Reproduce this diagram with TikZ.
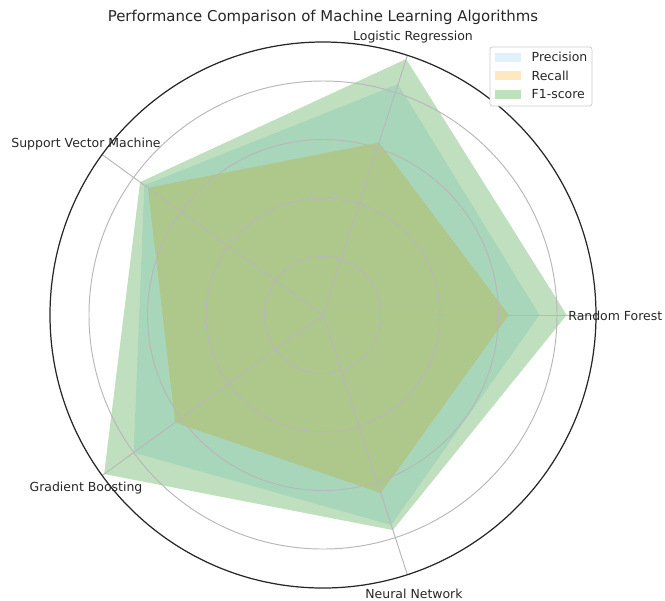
\documentclass[tikz,border=0pt]{standalone}
\usepackage{fontspec}
\setmainfont{DejaVu Sans}
\usepackage{xcolor}
\usetikzlibrary{positioning}
\definecolor{skyblue}{RGB}{135,206,235}
\definecolor{mplorange}{RGB}{255,165,0}
\definecolor{mplgreen}{RGB}{0,128,0}
\definecolor{gridgray}{RGB}{184,184,184}
\definecolor{txt}{RGB}{38,38,38}
\newcommand{\unitpx}{292.5}
\tikzset{
  gridline/.style={gridgray,line width=0.55pt},
  scorefill/.style={fill=#1,fill opacity=0.25},
  keypatch/.style={scorefill=#1,minimum width=0.52cm,minimum height=0.18cm}
}

\begin{document}
\begin{tikzpicture}[x=0.02cm,y=0.02cm,every node/.style={font=\fontsize{7.1}{8}\selectfont,text=txt,inner sep=0pt}]
\useasboundingbox (-323,-285) rectangle (342,315);
% scores: RF, LR, SVM, GB, NN
\fill[scorefill=skyblue] (0:{0.74*\unitpx}) -- (72:{0.83*\unitpx}) -- (144:{0.755*\unitpx}) -- (216:{0.80*\unitpx}) -- (288:{0.755*\unitpx}) -- cycle;
\fill[scorefill=mplorange] (0:{0.635*\unitpx}) -- (72:{0.62*\unitpx}) -- (144:{0.74*\unitpx}) -- (216:{0.625*\unitpx}) -- (288:{0.64*\unitpx}) -- cycle;
\fill[scorefill=mplgreen] (0:{0.833*\unitpx}) -- (72:{0.92*\unitpx}) -- (144:{0.773*\unitpx}) -- (216:{0.925*\unitpx}) -- (288:{0.773*\unitpx}) -- cycle;
% grid circles and spokes
\foreach \r in {0.2,0.4,0.6,0.8}
  \draw[gridline] (0,0) circle ({\r*\unitpx});
\foreach \a in {0,72,144,216,288}
  \draw[gridline] (0,0) -- (\a:273);
\draw[black!85,line width=0.7pt] (0,0) circle (273);
% axis labels
\node (rf) [anchor=west] at (245,-1) {Random Forest};
\node (lr) at (90,278) {Logistic Regression};
\node (svm) at (-237,171) {Support Vector Machine};
\node (gb) at (-237,-173) {Gradient Boosting};
\node (nn) at (91,-279) {Neural Network};
\node (title) [font=\fontsize{8.5}{10}\selectfont] at (0,298) {Performance Comparison of Machine Learning Algorithms};
% legend
\draw[gridgray!70,fill=white,rounded corners=0.05cm,line width=0.4pt] (167,268) rectangle (269,209);
\node (kp) [keypatch=skyblue] at (185,258) {};
\node (kr) [keypatch=mplorange] at (185,239.5) {};
\node (kf) [keypatch=mplgreen] at (185,221) {};
\node (lp) [right=0.2cm of kp] {Precision};
\node (lrc) [right=0.2cm of kr] {Recall};
\node (lf) [right=0.2cm of kf] {F1-score};
\end{tikzpicture}
\end{document}
